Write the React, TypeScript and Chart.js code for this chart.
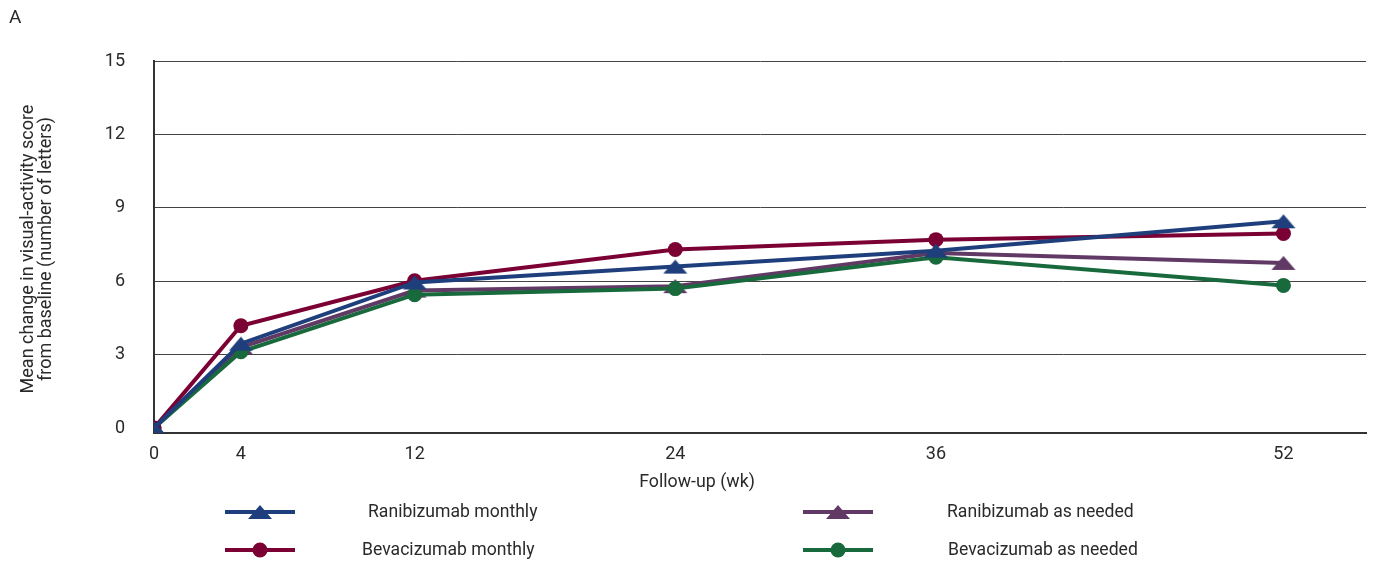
import React, { useEffect, useRef } from "react";
import { Chart, registerables } from "chart.js";

Chart.register(...registerables);

// Follow-up weeks and mean change in visual-acuity letters per treatment arm
const weeks = [0, 4, 12, 24, 36, 52];
const ranibizumabMonthly = [0, 3.45, 5.95, 6.6, 7.25, 8.45];
const bevacizumabMonthly = [0, 4.18, 6.02, 7.3, 7.7, 7.95];
const ranibizumabAsNeeded = [0, 3.3, 5.62, 5.8, 7.15, 6.75];
const bevacizumabAsNeeded = [0, 3.12, 5.45, 5.7, 6.98, 5.83];

const xTicks = [0, 4, 12, 24, 36, 52];
const yTicks = [0, 3, 6, 9, 12, 15];

const seriesLabels = [
  "Ranibizumab monthly",
  "Bevacizumab monthly",
  "Ranibizumab as needed",
  "Bevacizumab as needed",
];

const BLUE = "#1f3f7c";
const MAROON = "#7b0033";
const PURPLE = "#603a65";
const GREEN = "#186a3c";

const FONT = "Roboto, 'Noto Sans', sans-serif";
const TEXT = "#2a2a2a";

function makeTriangle(color: string) {
  const c = document.createElement("canvas");
  c.width = 26;
  c.height = 16;
  const g = c.getContext("2d")!;
  g.fillStyle = color;
  g.beginPath();
  g.moveTo(13, 1);
  g.lineTo(25, 15);
  g.lineTo(1, 15);
  g.closePath();
  g.fill();
  return c;
}

const annotations = {
  id: "annotations",
  afterDraw(chart: any) {
    const ctx = chart.ctx as CanvasRenderingContext2D;
    ctx.save();
    ctx.fillStyle = TEXT;
    ctx.textBaseline = "middle";

    // panel letter
    ctx.font = `19px ${FONT}`;
    ctx.textAlign = "left";
    ctx.fillText("A", 9, 18);

    // x-axis title
    ctx.font = `17.8px ${FONT}`;
    ctx.textAlign = "center";
    ctx.fillText("Follow-up (wk)", 697, 483);

    // y-axis title
    ctx.font = `18px ${FONT}`;
    ctx.save();
    ctx.translate(28, 249);
    ctx.rotate(-Math.PI / 2);
    ctx.fillText("Mean change in visual-activity score", 0, 0);
    ctx.fillText("from baseline (number of letters)", 0, 18);
    ctx.restore();

    // legend
    const slots = [
      { x: 225, y: 512, text: 368 },
      { x: 225, y: 550, text: 362 },
      { x: 803, y: 512, text: 947 },
      { x: 803, y: 550, text: 948 },
    ];
    [0, 1, 2, 3].forEach((i) => {
      const ds = chart.data.datasets[i];
      const s = slots[i];
      ctx.strokeStyle = ds.borderColor;
      ctx.lineWidth = 4;
      ctx.beginPath();
      ctx.moveTo(s.x, s.y);
      ctx.lineTo(s.x + 70, s.y);
      ctx.stroke();
      const mx = s.x + 35;
      if (typeof ds.pointStyle === "object") {
        const img = ds.pointStyle as HTMLCanvasElement;
        ctx.drawImage(img, mx - img.width / 2, s.y - img.height / 2);
      } else {
        ctx.fillStyle = ds.borderColor;
        ctx.beginPath();
        ctx.arc(mx, s.y, 7.5, 0, Math.PI * 2);
        ctx.fill();
      }
      ctx.fillStyle = TEXT;
      ctx.font = `17.6px ${FONT}`;
      ctx.textAlign = "left";
      ctx.fillText(seriesLabels[i], s.text, s.y + 1);
    });
    ctx.restore();
  },
};

export default function App() {
  const ref = useRef<HTMLCanvasElement>(null);

  useEffect(() => {
    document.body.style.margin = "0";
    const toPts = (vals: number[]) => weeks.map((w, i) => ({ x: w, y: vals[i] }));
    const chart = new Chart(ref.current!, {
      type: "line",
      data: {
        datasets: [
          {
            label: seriesLabels[0],
            data: toPts(ranibizumabMonthly),
            borderColor: BLUE,
            backgroundColor: BLUE,
            pointStyle: makeTriangle(BLUE) as any,
            order: 1,
          },
          {
            label: seriesLabels[1],
            data: toPts(bevacizumabMonthly),
            borderColor: MAROON,
            backgroundColor: MAROON,
            pointStyle: "circle",
            pointRadius: 7.5,
            order: 2,
          },
          {
            label: seriesLabels[2],
            data: toPts(ranibizumabAsNeeded),
            borderColor: PURPLE,
            backgroundColor: PURPLE,
            pointStyle: makeTriangle(PURPLE) as any,
            order: 4,
          },
          {
            label: seriesLabels[3],
            data: toPts(bevacizumabAsNeeded),
            borderColor: GREEN,
            backgroundColor: GREEN,
            pointStyle: "circle",
            pointRadius: 7.5,
            order: 3,
          },
        ],
      },
      options: {
        animation: false,
        responsive: false,
        events: [],
        elements: {
          line: { borderWidth: 4, tension: 0 },
          point: { radius: 7.5, borderWidth: 0 },
        },
        layout: { padding: { top: 61, right: 9, left: 0, bottom: 0 } },
        plugins: { legend: { display: false }, tooltip: { enabled: false } },
        scales: {
          x: {
            type: "linear",
            min: 0,
            max: 55.8,
            afterBuildTicks: (s: any) => {
              s.ticks = xTicks.map((v) => ({ value: v }));
            },
            afterFit: (s: any) => {
              s.height = 131;
            },
            grid: { display: false, drawTicks: false },
            border: { display: true, color: "#333", width: 2 },
            ticks: {
              padding: 11,
              color: TEXT,
              font: { family: FONT, size: 18 },
              maxRotation: 0,
            },
          },
          y: {
            type: "linear",
            min: -0.2,
            max: 15,
            afterBuildTicks: (s: any) => {
              s.ticks = yTicks.map((v) => ({ value: v }));
            },
            afterFit: (s: any) => {
              s.width = 154;
            },
            grid: {
              drawTicks: false,
              color: (c: any) => (c.tick && c.tick.value === 0 ? "rgba(0,0,0,0)" : "#444"),
              lineWidth: 1,
            },
            border: { display: true, color: "#333", width: 2 },
            ticks: {
              padding: 29,
              color: TEXT,
              font: { family: FONT, size: 18 },
            },
          },
        },
      },
      plugins: [annotations],
    });
    return () => chart.destroy();
  }, []);

  return <canvas ref={ref} width={1375} height={564} style={{ display: "block" }} />;
}
